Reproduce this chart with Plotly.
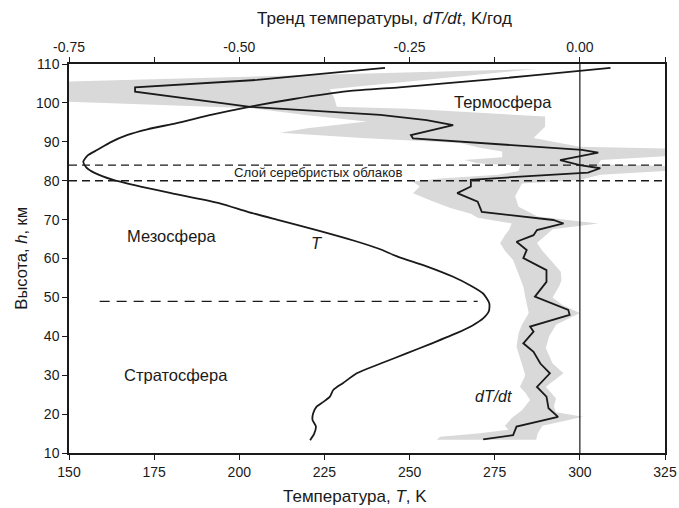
import plotly.graph_objects as go

# Temperature profile T(h)
alt_T = [13.3, 15.0, 16.8, 18.5, 20.2, 21.9, 23.2, 24.5, 26.2, 28.0, 30.5, 33.0,
         35.6, 38.0, 40.8, 42.8, 44.6, 46.5, 48.5, 51.0, 53.0, 55.3, 58.0, 60.5,
         62.5, 64.5, 67.3, 70.0, 72.0, 74.2, 76.8, 78.5, 80.2, 82.0, 83.5, 84.9,
         86.5, 88.0, 89.8, 91.7, 93.2, 94.8, 97.0, 99.0, 101.0, 103.0, 104.0,
         105.0, 107.0, 109.0]
temp_K = [220.8, 222.0, 222.5, 221.5, 221.7, 222.7, 224.8, 226.6, 227.6, 230.5,
          234.5, 241.5, 249.1, 256.0, 263.8, 268.5, 271.6, 273.3, 273.4, 271.6,
          268.0, 262.8, 255.0, 246.5, 241.0, 234.0, 222.7, 211.0, 202.5, 194.3,
          180.0, 171.0, 163.0, 157.5, 155.0, 154.2, 155.5, 158.5, 162.0, 167.0,
          173.0, 181.6, 192.0, 203.0, 216.0, 232.0, 247.0, 260.3, 285.5, 309.0]

# Temperature trend dT/dt(h), K/year
alt_trend = [13.5, 14.6, 16.8, 19.3, 21.5, 24.5, 27.0, 30.5, 33.0, 36.0, 38.2,
             41.2, 42.5, 45.5, 46.8, 50.2, 54.0, 57.0, 60.1, 62.2, 64.3, 66.0,
             67.3, 69.0, 69.9, 72.0, 74.6, 76.8, 78.5, 80.2, 80.9, 82.1, 83.2,
             84.0, 85.3, 87.2, 87.9, 90.9, 91.7, 94.3, 95.6, 96.9, 99.0, 102.9,
             104.0, 105.9, 109.0]
trend = [-0.142, -0.098, -0.093, -0.032, -0.046, -0.049, -0.063, -0.044, -0.058,
         -0.068, -0.083, -0.068, -0.073, -0.015, -0.017, -0.066, -0.049, -0.049,
         -0.083, -0.078, -0.093, -0.068, -0.063, -0.024, -0.039, -0.144, -0.150,
         -0.180, -0.160, -0.160, -0.100, 0.012, 0.030, 0.000, -0.029, 0.027,
         0.003, -0.245, -0.248, -0.186, -0.225, -0.293, -0.484, -0.653, -0.653,
         -0.474, -0.286]

# Uncertainty band of the trend: right (upper) and left (lower) edges
band_hi_alt = [13.4, 15.0, 17.0, 19.3, 20.5, 22.0, 24.0, 27.0, 30.5, 33.0, 37.0,
               40.0, 43.0, 46.0, 48.0, 50.0, 53.0, 54.5, 56.6, 60.0, 62.0, 64.0,
               66.0, 67.5, 69.0, 70.0, 70.8, 73.3, 76.0, 79.3, 80.2, 81.5, 82.5,
               83.8, 84.2, 85.3, 86.3, 88.3, 88.7, 91.0, 93.9, 96.5, 97.5, 98.5,
               99.0, 101.0, 103.5, 106.0, 108.7]
band_hi = [-0.064, -0.062, -0.055, 0.005, -0.035, -0.038, -0.035, -0.050, -0.024,
           -0.040, -0.050, -0.045, -0.035, 0.000, -0.025, -0.040, -0.030, -0.027,
           -0.028, -0.045, -0.055, -0.063, -0.050, -0.040, 0.027, -0.020, -0.062,
           -0.090, -0.095, -0.085, 0.000, 0.030, 0.125, 0.125, 0.027, 0.031,
           0.125, 0.125, 0.000, -0.068, -0.051, -0.051, -0.150, -0.250, -0.357,
           -0.360, -0.367, -0.223, -0.065]
band_lo_alt = [13.4, 14.2, 15.0, 16.0, 17.0, 19.0, 21.0, 23.6, 25.5, 27.0, 30.0,
               33.0, 37.3, 40.8, 43.0, 46.0, 50.0, 52.8, 56.0, 59.6, 62.0, 63.9,
               66.0, 67.3, 69.0, 70.5, 71.5, 73.0, 75.0, 76.8, 78.5, 79.7, 80.5,
               81.5, 82.5, 83.8, 84.5, 85.3, 86.0, 87.5, 88.5, 89.7, 91.0, 92.3,
               93.5, 95.2, 96.8, 98.6, 100.3, 105.5, 106.0, 107.0, 108.0, 108.7]
band_lo = [-0.210, -0.205, -0.150, -0.105, -0.110, -0.100, -0.085, -0.073, -0.080,
           -0.088, -0.080, -0.085, -0.093, -0.090, -0.085, -0.075, -0.080, -0.083,
           -0.090, -0.098, -0.110, -0.117, -0.110, -0.104, -0.100, -0.150, -0.160,
           -0.190, -0.220, -0.245, -0.235, -0.245, -0.210, -0.120, -0.090, -0.088,
           -0.150, -0.170, -0.114, -0.114, -0.147, -0.176, -0.320, -0.440, -0.400,
           -0.313, -0.400, -0.480, -0.750, -0.750, -0.640, -0.430, -0.216, -0.065]

# Axis ticks
T_ticks = [150, 175, 200, 225, 250, 275, 300, 325]
trend_ticks = [-0.75, -0.625, -0.5, -0.375, -0.25, -0.125, 0.0, 0.125]
trend_labels = ["-0.75", "", "-0.50", "", "-0.25", "", "0.00", ""]
alt_ticks = [10, 20, 30, 40, 50, 60, 70, 80, 90, 100, 110]

FONT = "Liberation Sans, Arial, sans-serif"
INK = "#1a1a1a"

fig = go.Figure()

# grey band (trend axis, drawn first so lines sit above it)
fig.add_trace(go.Scatter(
    x=band_hi + band_lo[::-1],
    y=band_hi_alt + band_lo_alt[::-1],
    mode="lines", fill="toself", fillcolor="#d9d9d9",
    line=dict(width=0), hoverinfo="skip", showlegend=False,
    xaxis="x", yaxis="y"))

fig.add_trace(go.Scatter(
    x=trend, y=alt_trend, mode="lines",
    line=dict(color=INK, width=1.8), showlegend=False,
    xaxis="x", yaxis="y"))

fig.add_trace(go.Scatter(
    x=temp_K, y=alt_T, mode="lines", line_shape="spline",
    line=dict(color=INK, width=1.8, smoothing=0.6), showlegend=False,
    xaxis="x2", yaxis="y"))

# noctilucent cloud layer boundaries
for h in (84, 80):
    fig.add_shape(type="line", xref="paper", yref="y", x0=0, x1=1, y0=h, y1=h,
                  line=dict(color=INK, width=1.4, dash="8px,5px"), layer="above")

# stratopause marker
fig.add_shape(type="line", xref="x2", yref="y", x0=159, x1=270, y0=49, y1=49,
              line=dict(color=INK, width=1.3, dash="10px,7px"), layer="above")

# zero-trend line
fig.add_shape(type="line", xref="x", yref="paper", x0=0, x1=0, y0=0, y1=1,
              line=dict(color=INK, width=1.2), layer="above")

def label(text, x, y, xref, size, italic=False):
    if italic:
        text = "<i>" + text + "</i>"
    fig.add_annotation(text=text, x=x, y=y, xref=xref, yref="y",
                       showarrow=False, font=dict(family=FONT, size=size, color=INK))

label("Термосфера", 277.4, 100.2, "x2", 16.5)
label("Слой серебристых облаков", 223.1, 82.0, "x2", 13.2)
label("Мезосфера", 180.0, 65.8, "x2", 16.5)
label("Стратосфера", 181.4, 30.0, "x2", 16.5)
label("T", 222.7, 63.9, "x2", 16.5, italic=True)
label("dT/dt", 274.6, 24.5, "x2", 16, italic=True)

# axis titles
def title(text, x, y, angle=0, size=17):
    fig.add_annotation(text=text, x=x, y=y, xref="paper", yref="paper",
                       showarrow=False, textangle=angle,
                       xanchor="center", yanchor="middle",
                       font=dict(family=FONT, size=size, color=INK))

title("Тренд температуры, <i>dT/dt</i>, K/год", 0.530, 1.118)
title("Температура, <i>T</i>, K", 0.480, -0.113)
title("Высота, <i>h</i>, км", -0.082, 0.5, angle=-90, size=16.5)

axis_common = dict(showline=True, linecolor=INK, linewidth=1.5, ticks="outside",
                   ticklen=5, tickwidth=1.3, tickcolor=INK, showgrid=False,
                   zeroline=False, automargin=False,
                   tickfont=dict(family=FONT, size=14, color=INK))

fig.update_layout(
    width=679, height=508,
    margin=dict(l=69, r=14, t=64, b=55),
    paper_bgcolor="white", plot_bgcolor="white",
    xaxis=dict(range=[-0.75, 0.125], side="top",
               tickvals=trend_ticks, ticktext=trend_labels, **axis_common),
    xaxis2=dict(range=[150, 325], side="bottom", overlaying="x", anchor="y",
                tickvals=T_ticks, **axis_common),
    yaxis=dict(range=[10, 110], tickvals=alt_ticks, mirror=True, **axis_common),
)

fig.write_html("out.html")
